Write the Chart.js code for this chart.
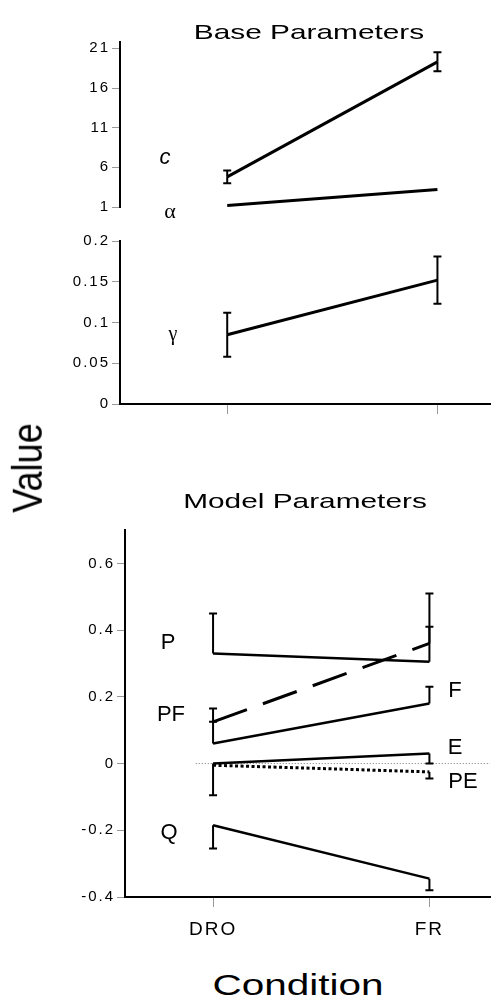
<!DOCTYPE html>
<html><head><meta charset="utf-8">
<script src="https://cdn.jsdelivr.net/npm/chart.js@4"></script>
<style>
body{margin:0;background:#fff;}
#wrap{position:relative;width:491px;height:1000px;overflow:hidden;font-family:"Liberation Sans",Arial,sans-serif;color:#000;}
canvas{position:absolute;left:0;}
.t{position:absolute;white-space:nowrap;line-height:1;}
</style></head><body>
<div id="wrap">
<canvas id="c1" width="491" height="218" style="top:0px"></canvas>
<canvas id="c2" width="491" height="200" style="top:230px"></canvas>
<canvas id="c3" width="491" height="447" style="top:500px"></canvas>
<div class="t" style="left:309px;top:31px;font-size:21px;transform:translate(-50%,-50%) scaleX(1.42)">Base Parameters</div>
<div class="t" style="left:305px;top:500px;font-size:21px;transform:translate(-50%,-50%) scaleX(1.42)">Model Parameters</div>
<div class="t" style="left:27px;top:468px;font-size:36px;transform:translate(-50%,-50%) rotate(-90deg) scale(1,1.2)">Value</div>
<div class="t" style="left:298px;top:985px;font-size:30px;transform:translate(-50%,-50%) scaleX(1.35)">Condition</div>
<div class="t" style="left:165px;top:157px;font-size:22px;font-style:italic;transform:translate(-50%,-50%)">c</div>
<div class="t" style="left:170px;top:211px;font-size:22px;font-family:'Liberation Serif';transform:translate(-50%,-50%)">α</div>
<div class="t" style="left:173px;top:333px;font-size:20px;font-family:'Liberation Serif';transform:translate(-50%,-50%)">γ</div>
<div class="t" style="left:168px;top:642px;font-size:22px;transform:translate(-50%,-50%)">P</div>
<div class="t" style="left:171px;top:714px;font-size:22px;transform:translate(-50%,-50%)">PF</div>
<div class="t" style="left:455px;top:690px;font-size:22px;transform:translate(-50%,-50%)">F</div>
<div class="t" style="left:455px;top:747px;font-size:22px;transform:translate(-50%,-50%)">E</div>
<div class="t" style="left:463px;top:781px;font-size:22px;transform:translate(-50%,-50%)">PE</div>
<div class="t" style="left:169px;top:832px;font-size:22px;transform:translate(-50%,-50%)">Q</div>
</div>
<script>
const categories = ['DRO', 'FR'];
// Base parameters
const cValues = [4.8, 19.3];
const cErr = [0.8, 1.2];
const alphaValues = [1.2, 3.2];
const gammaValues = [0.085, 0.152];
const gammaErr = [0.027, 0.029];
// Model parameters
const pValues = [0.33, 0.305];
const pErrUp = [0.12, 0.205];
const pfValues = [0.125, 0.36];
const pfErrUp = [0.04, 0.05];
const fValues = [0.06, 0.18];
const fErrUp = [0.065, 0.05];
const eValues = [0.0, 0.03];
const eErrDown = [0.095, 0.03];
const peValues = [-0.005, -0.025];
const peErrDown = [0, 0.02];
const qValues = [-0.185, -0.345];
const qErrDown = [0.07, 0.035];
// tick labels
const baseTicks = [1, 6, 11, 16, 21];
const gammaTicks = [0, 0.05, 0.1, 0.15, 0.2];
const modelTicks = [-0.4, -0.2, 0, 0.2, 0.4, 0.6];

const pts = vals => categories.map((c, i) => ({x: i, y: vals[i]}));

const errorBars = {
  id: 'errorBars',
  afterDatasetsDraw(chart) {
    const ctx = chart.ctx, xs = chart.scales.x, ys = chart.scales.y;
    chart.data.datasets.forEach(ds => {
      if (!ds.errUp && !ds.errDown) return;
      ds.data.forEach((p, i) => {
        const x = xs.getPixelForValue(p.x), y0 = ys.getPixelForValue(p.y);
        ctx.save();
        ctx.strokeStyle = '#000'; ctx.lineWidth = 2; ctx.setLineDash([]);
        const draw = v => {
          const y1 = ys.getPixelForValue(v);
          ctx.beginPath(); ctx.moveTo(x, y0); ctx.lineTo(x, y1);
          ctx.moveTo(x - 4, y1); ctx.lineTo(x + 4, y1); ctx.stroke();
        };
        if (ds.errUp && ds.errUp[i] > 0) draw(p.y + ds.errUp[i]);
        if (ds.errDown && ds.errDown[i] > 0) draw(p.y - ds.errDown[i]);
        ctx.restore();
      });
    });
  }
};
const spacing = {
  id: 'spacing',
  beforeDraw(chart) { chart.ctx.letterSpacing = '2px'; }
};
const zeroLine = {
  id: 'zeroLine',
  beforeDatasetsDraw(chart, args, opts) {
    if (opts.start === undefined) return;
    const ctx = chart.ctx, xs = chart.scales.x, ys = chart.scales.y;
    const y = ys.getPixelForValue(0);
    ctx.save(); ctx.strokeStyle = '#777'; ctx.lineWidth = 1; ctx.setLineDash([1, 2]);
    ctx.beginPath(); ctx.moveTo(xs.getPixelForValue(opts.start), y); ctx.lineTo(chart.chartArea.right, y); ctx.stroke();
    ctx.restore();
  }
};

const line = (vals, extra) => Object.assign({
  data: pts(vals), borderColor: '#000', borderWidth: 2.5, pointRadius: 0,
  tension: 0, fill: false, showLine: true
}, extra || {});

const yAxis = (min, max, ticks, width, fmt) => ({
  type: 'linear', min, max,
  afterBuildTicks: s => { s.ticks = ticks.map(v => ({value: v})); },
  afterFit: s => { s.width = width; },
  border: {display: true, color: '#000', width: 2},
  grid: {drawOnChartArea: false, drawTicks: true, tickLength: 8, color: '#999', lineWidth: 1},
  ticks: {color: '#000', font: {family: 'Liberation Sans', size: 15}, padding: 2, callback: fmt}
});

const xAxis = (min, max, show, labels, height) => ({
  type: 'linear', min, max, display: show,
  afterBuildTicks: s => { s.ticks = categories.map((c, i) => ({value: i})); },
  afterFit: s => { s.height = height; },
  border: {display: true, color: '#000', width: 2},
  grid: {drawOnChartArea: false, drawTicks: true, tickLength: 10, color: '#999', lineWidth: 1},
  ticks: {display: labels, color: '#000', font: {family: 'Liberation Sans', size: 19}, padding: 11,
          maxRotation: 0, callback: v => categories[v]}
});

const common = {
  responsive: false, animation: false, devicePixelRatio: 1,
  plugins: {legend: {display: false}, tooltip: {enabled: false}, title: {display: false}}
};

new Chart(document.getElementById('c1'), {
  type: 'scatter',
  data: {datasets: [
    line(cValues, {errUp: cErr, errDown: cErr, borderWidth: 3}),
    line(alphaValues, {borderWidth: 3})
  ]},
  options: Object.assign({}, common, {
    layout: {padding: {top: 42, bottom: 0, right: 1, left: 0}},
    scales: {
      x: xAxis(-0.51, 1.25, false, false, 0),
      y: yAxis(1, 21.8, baseTicks, 120, v => String(v))
    }
  }),
  plugins: [errorBars, spacing]
});

new Chart(document.getElementById('c2'), {
  type: 'scatter',
  data: {datasets: [
    line(gammaValues, {errUp: gammaErr, errDown: gammaErr, borderWidth: 3})
  ]},
  options: Object.assign({}, common, {
    layout: {padding: {top: 10, bottom: 0, right: 1, left: 0}},
    scales: {
      x: xAxis(-0.51, 1.25, true, false, 26),
      y: yAxis(0, 0.2, gammaTicks, 120, v => String(v))
    }
  }),
  plugins: [errorBars, spacing]
});

new Chart(document.getElementById('c3'), {
  type: 'scatter',
  data: {datasets: [
    line(pValues, {errUp: pErrUp}),
    line(pfValues, {errUp: pfErrUp, borderDash: [36, 17], borderWidth: 3}),
    line(fValues, {errUp: fErrUp}),
    line(eValues, {errDown: eErrDown}),
    line(peValues, {errDown: peErrDown, borderDash: [3, 2.5], borderWidth: 3}),
    line(qValues, {errDown: qErrDown})
  ]},
  options: Object.assign({}, common, {
    layout: {padding: {top: 30, bottom: 0, right: 1, left: 0}},
    plugins: Object.assign({}, common.plugins, {zeroLine: {start: -0.08}}),
    scales: {
      x: xAxis(-0.407, 1.28, true, true, 50),
      y: yAxis(-0.4, 0.7, modelTicks, 125, v => String(v))
    }
  }),
  plugins: [errorBars, spacing, zeroLine]
});
</script>
</body></html>
